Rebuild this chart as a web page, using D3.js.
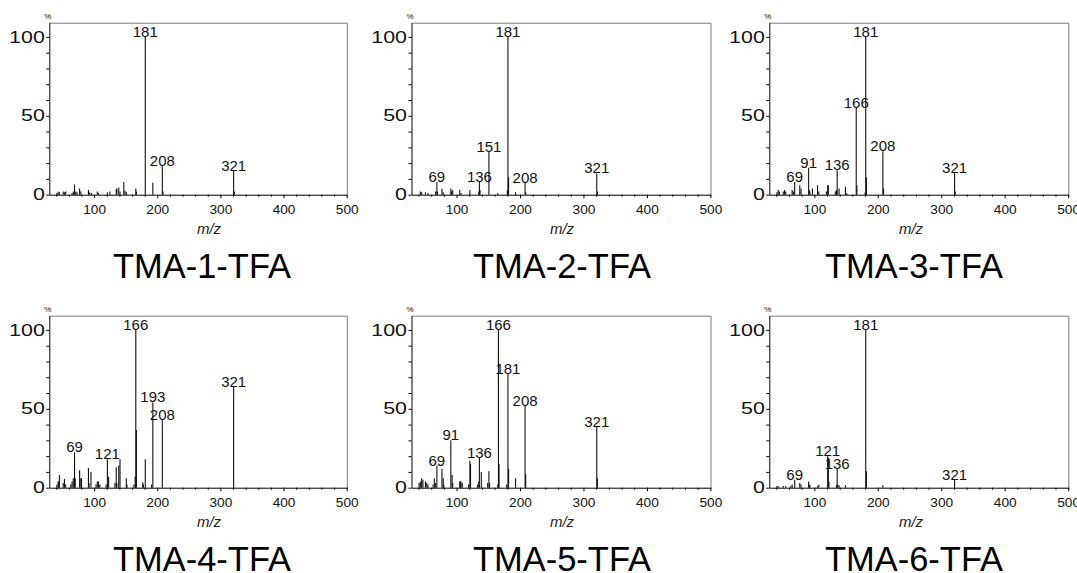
<!DOCTYPE html>
<html>
<head>
<meta charset="utf-8">
<script src="https://cdn.jsdelivr.net/npm/d3@7"></script>
<style>
  body { margin: 0; background: #fff; }
  svg { display: block; font-family: "Liberation Sans", Arial, sans-serif; }
</style>
</head>
<body>
<svg id="chart" width="1077" height="573"></svg>
<script>
// Data: centroided spectra, [m/z, relative intensity %]
const TITLES = ["TMA-1-TFA", "TMA-2-TFA", "TMA-3-TFA", "TMA-4-TFA", "TMA-5-TFA", "TMA-6-TFA"];
const MZ_TICKS = [100, 200, 300, 400, 500];
const PCT_TICKS = [0, 50, 100];

const tma1 = [[41,1],[43,2],[45,1.5],[51,2],[53,1.5],[55,2],[65,1],[67,2],[69,6.5],[71,2],[73,1.5],[77,4],[79,2],
  [91,3],[93,1.5],[96,1],[105,2],[107,1],[121,1.5],[125,2],[135,3.5],[136,4],[139,4.5],[141,2],[147,8],[149,2.5],
  [151,1.5],[166,4],[167,2],[181,100],[193,7.5],[208,18],[209,2],[321,15],[322,2]];
const tma2 = [[43,2],[45,1.5],[51,1.5],[55,1],[67,2],[69,8],[70,2],[77,4],[79,1.5],[91,4],[92,2],[94,3],[105,3],
  [107,1],[121,3],[135,2],[136,8],[137,3],[151,27],[165,1],[180,3],[181,100],[182,11],[193,1.5],[208,7.5],[209,1.5],
  [321,13.5],[322,2]];
const tma3 = [[41,1.5],[43,3],[45,2],[51,2],[53,3],[55,2],[65,3],[67,2],[69,8],[77,6],[79,4],[91,17],[92,3],[93,2],
  [97,4],[105,6],[107,2],[119,2],[121,6],[122,6],[133,2],[135,3],[136,15.5],[139,4],[149,5],[151,1],[166,55],[167,6],
  [180,1.5],[181,100],[182,11],[208,27.5],[209,4],[321,14],[322,2]];
const tma4 = [[41,2],[43,4],[44,4],[45,8],[51,3],[53,5.5],[55,2],[63,2],[65,4],[67,6],[69,22.5],[70,6],[77,11],[79,6],
  [80,6],[91,12.5],[92,3],[95,10],[103,2],[105,4],[107,4],[109,2],[119,2],[121,18],[123,7],[133,3],[135,13],[136,3],
  [139,14],[141,18],[151,6],[152,2],[163,2],[165,7],[166,100],[167,36.5],[177,3.5],[178,2],[181,18],[191,2],[193,54],
  [208,43],[321,64]];
const tma5 = [[41,3],[43,4],[45,6],[47,5],[51,4],[53,3],[55,2],[63,2],[65,6],[67,3],[69,14],[77,12],[79,6],[80,2],
  [91,30],[93,8],[94,3],[105,4],[106,4],[107,4],[109,3],[119,2],[121,17],[122,15],[133,2],[135,4],[136,19],[139,10],
  [149,3],[151,10.5],[152,3],[165,2],[166,100],[167,15],[179,2],[181,72],[182,12],[193,6],[208,52],[209,8.5],
  [321,38.5],[322,6]];
const tma6 = [[41,1],[43,1],[51,1],[55,1],[63,1],[65,2],[69,5],[77,3],[79,2],[91,4],[92,2],[93,1.5],[105,1],[107,2],
  [121,20],[122,19],[123,4],[135,1.5],[136,12],[137,2],[139,1.5],[149,1.5],[181,100],[182,10.5],[208,1.5],[321,5]];

const labels1 = [181, 208, 321];
const labels2 = [69, 136, 151, 181, 208, 321];
const labels3 = [69, 91, 136, 166, 181, 208, 321];
const labels4 = [69, 121, 166, 193, 208, 321];
const labels5 = [69, 91, 136, 166, 181, 208, 321];
const labels6 = [69, 121, 136, 181, 321];

const SPECTRA = [tma1, tma2, tma3, tma4, tma5, tma6];
const LABELS = [labels1, labels2, labels3, labels4, labels5, labels6];

// Layout
const COL_LEFT = [49.3, 411.5, 769.3];
const COL_W = [298, 299.5, 299.5];
const ROW_TOP = [22.7, 315.7];
const PLOT_H = 172;
const MZ_LABEL_X = [209, 562, 911];
const TITLE_X = [202, 562, 914];

const svg = d3.select("#chart");

SPECTRA.forEach((peaks, i) => {
  const col = i % 3, row = Math.floor(i / 3);
  const w = COL_W[col], h = PLOT_H;
  const g = svg.append("g").attr("transform", `translate(${COL_LEFT[col]},${ROW_TOP[row]})`);

  const x = d3.scaleLinear().domain([29, 501]).range([0, w]);
  const y = d3.scaleLinear().domain([0, 109]).range([h, 0]);

  // gray frame top/right
  g.append("path").attr("d", `M0,0.5H${w}V${h}`)
    .attr("fill", "none").attr("stroke", "#7a7a7a").attr("stroke-width", 1);

  // peaks
  g.append("g").selectAll("line").data(peaks).join("line")
    .attr("x1", d => x(d[0])).attr("x2", d => x(d[0]))
    .attr("y1", y(0)).attr("y2", d => y(d[1]))
    .attr("stroke", "#111").attr("stroke-width", 1.1);

  // peak labels
  const byMz = new Map(peaks);
  g.append("g").selectAll("text").data(LABELS[i]).join("text")
    .attr("x", d => x(d)).attr("y", d => y(byMz.get(d)))
    .attr("text-anchor", "middle")
    .attr("font-size", 15).attr("fill", "#111")
    .text(d => d);

  // x axis
  g.append("g").attr("transform", `translate(0,${h})`)
    .call(d3.axisBottom(x).tickValues(d3.range(40, 501, 20)).tickSize(2).tickSizeOuter(0)
      .tickFormat(d => MZ_TICKS.includes(d) ? d : ""))
    .call(a => a.select(".domain").attr("stroke", "#000"))
    .call(a => a.selectAll(".tick line").attr("stroke", "#000")
      .attr("y2", d => MZ_TICKS.includes(d) ? 3.5 : 2))
    .call(a => a.selectAll(".tick text")
      .attr("y", 19.6).attr("dy", 0)
      .attr("font-size", 12).attr("fill", "#111")
      .attr("font-family", "'Liberation Sans', Arial, sans-serif")
      .filter(d => MZ_TICKS.includes(d))
      .attr("textLength", d => String(d).length * 7.6)
      .attr("lengthAdjust", "spacingAndGlyphs"));

  // y axis
  g.append("g")
    .call(d3.axisLeft(y).tickValues(d3.range(0, 101, 10)).tickSize(3).tickSizeOuter(0)
      .tickFormat(d => PCT_TICKS.includes(d) ? d : ""))
    .call(a => a.select(".domain").attr("stroke", "#000"))
    .call(a => a.selectAll(".tick line").attr("stroke", "#000"))
    .call(a => a.selectAll(".tick text")
      .attr("x", -4.5)
      .attr("font-size", 16).attr("fill", "#111")
      .attr("font-family", "'Liberation Sans', Arial, sans-serif")
      .filter(d => PCT_TICKS.includes(d))
      .attr("textLength", d => String(d).length * 11.9)
      .attr("lengthAdjust", "spacingAndGlyphs"));

  // % marker
  g.append("text").attr("x", -1.5).attr("y", -4).attr("text-anchor", "middle")
    .attr("font-size", 8).attr("fill", "#111").text("%");

  // m/z axis title
  svg.append("text")
    .attr("x", MZ_LABEL_X[col]).attr("y", ROW_TOP[row] + h + 39)
    .attr("text-anchor", "middle").attr("font-size", 15).attr("font-style", "italic")
    .attr("fill", "#222").text("m/z");

  // compound title
  svg.append("text")
    .attr("x", TITLE_X[col]).attr("y", ROW_TOP[row] + 255)
    .attr("text-anchor", "middle").attr("font-size", 35).attr("fill", "#000")
    .attr("textLength", 178).attr("lengthAdjust", "spacingAndGlyphs")
    .text(TITLES[i]);
});
</script>
</body>
</html>
